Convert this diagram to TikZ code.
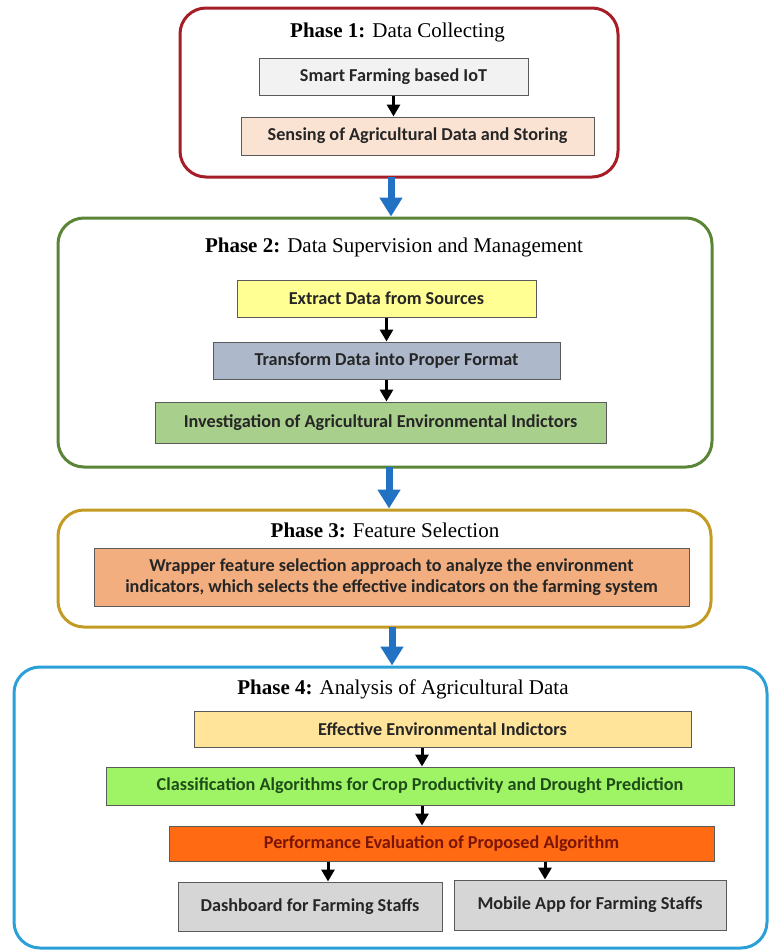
\documentclass[tikz,border=0pt]{standalone}
\usepackage{fontspec}
\setmainfont{Liberation Serif}
\newfontfamily\boxfont{Carlito}
\usetikzlibrary{arrows.meta}
\definecolor{redline}{HTML}{A51D26}
\definecolor{greenline}{HTML}{5B8536}
\definecolor{goldline}{HTML}{C49B22}
\definecolor{blueline}{HTML}{2BA0D8}
\definecolor{arrowblue}{HTML}{2272C3}
\definecolor{boxline}{HTML}{5A5A5A}
\definecolor{smartfill}{HTML}{F2F2F2}
\definecolor{sensefill}{HTML}{FBE3D3}
\definecolor{extractfill}{HTML}{FFFF94}
\definecolor{transfill}{HTML}{ADB8CB}
\definecolor{investfill}{HTML}{A9CF8C}
\definecolor{wrapfill}{HTML}{F3AE80}
\definecolor{effectfill}{HTML}{FFE49A}
\definecolor{classfill}{HTML}{9EF464}
\definecolor{perffill}{HTML}{FF6A12}
\definecolor{appfill}{HTML}{D6D6D6}
\definecolor{darkgreen}{HTML}{1F4D1A}
\definecolor{darkred}{HTML}{7A1405}
\tikzset{
  phase/.style={draw=#1,line width=3pt,rounded corners=26pt,inner sep=0pt},
  title/.style={font=\fontsize{21}{24}\selectfont},
  stepbox/.style={draw=boxline,line width=1pt,inner sep=0pt,align=center,
    text=black!85,font=\boxfont\bfseries\fontsize{18.2}{21}\selectfont},
  bigarrow/.style={draw=arrowblue,line width=7pt,-{Triangle[width=22pt,length=19pt]}},
  flow/.style={line width=3pt,-{Triangle[width=13pt,length=12pt]}}
}
\begin{document}
\begin{tikzpicture}[x=1pt,y=-1pt]
\useasboundingbox (0,0) rectangle (770,951);

\node[phase=redline,minimum width=438pt,minimum height=169pt] (p1) at (399,92.5) {};
\node[title] (t1) at (397.5,32) {\textbf{Phase 1:} Data Collecting};
\node[stepbox,fill=smartfill,minimum width=269pt,minimum height=37pt] (smart) at (393.5,76.5) {Smart Farming based IoT};
\node[stepbox,fill=sensefill,minimum width=353pt,minimum height=38pt] (sense) at (417.5,136) {Sensing of Agricultural Data and Storing};
\draw[flow] (smart.south) -- (smart.south |- sense.north);

\node[phase=greenline,minimum width=654pt,minimum height=249pt] (p2) at (385,342.5) {};
\node[title] (t2) at (394,247) {\textbf{Phase 2:} Data Supervision and Management};
\node[stepbox,fill=extractfill,minimum width=299pt,minimum height=37pt] (extract) at (386.5,298.5) {Extract Data from Sources};
\node[stepbox,fill=transfill,minimum width=347pt,minimum height=37pt] (trans) at (386.5,360.5) {Transform Data into Proper Format};
\node[stepbox,fill=investfill,minimum width=451pt,minimum height=41pt] (invest) at (380.5,422.5) {Investigation of Agricultural Environmental Indictors};
\draw[flow] (extract.south) -- (extract.south |- trans.north);
\draw[flow] (trans.south) -- (trans.south |- invest.north);

\node[phase=goldline,minimum width=653pt,minimum height=117pt] (p3) at (384.5,568.5) {};
\node[title] (t3) at (385,530) {\textbf{Phase 3:} Feature Selection};
\node[stepbox,fill=wrapfill,minimum width=595pt,minimum height=58pt] (wrap) at (391.5,577) {Wrapper feature selection approach to analyze the environment\\indicators, which selects the effective indicators on the farming system};

\node[phase=blueline,minimum width=753pt,minimum height=281pt] (p4) at (390.5,807.5) {};
\node[title] (t4) at (403,689) {\textbf{Phase 4:} Analysis of Agricultural Data};
\node[stepbox,fill=effectfill,minimum width=497pt,minimum height=36pt] (effect) at (442.5,729) {Effective Environmental Indictors};
\node[stepbox,fill=classfill,text=darkgreen,minimum width=628pt,minimum height=38pt] (classif) at (420,786) {Classification Algorithms for Crop Productivity and Drought Prediction};
\node[stepbox,fill=perffill,text=darkred,minimum width=545pt,minimum height=35pt] (perf) at (441.5,843.5) {Performance Evaluation of Proposed Algorithm};
\node[stepbox,fill=appfill,minimum width=264pt,minimum height=49pt] (dash) at (310,906.5) {Dashboard for Farming Staffs};
\node[stepbox,fill=appfill,minimum width=272pt,minimum height=50pt] (mobile) at (590,905) {Mobile App for Farming Staffs};
\draw[flow] (422,747.5) coordinate (e1) -- (e1 |- classif.north);
\draw[flow] (422,805.5) coordinate (c1) -- (c1 |- perf.north);
\draw[flow] (328,861.5) coordinate (d1) -- (d1 |- dash.north);
\draw[flow] (545,861.5) coordinate (m1) -- (m1 |- mobile.north);

\draw[bigarrow] (391,177) coordinate (a1) -- (a1 |- p2.north);
\draw[bigarrow] (389,467) coordinate (a2) -- (a2 |- p3.north);
\draw[bigarrow] (392,627) coordinate (a3) -- (a3 |- p4.north);
\end{tikzpicture}
\end{document}
